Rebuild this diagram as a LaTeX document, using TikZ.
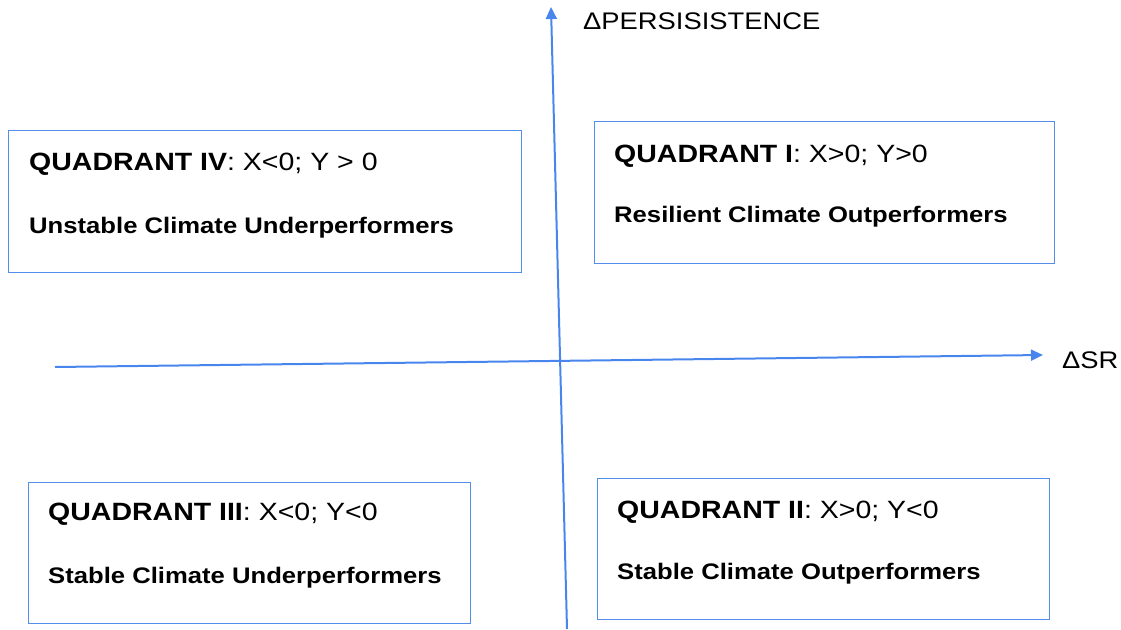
\documentclass[tikz,border=0pt]{standalone}
\usepackage{fontspec}
\setmainfont[FakeStretch=1.14]{Liberation Sans}
\usetikzlibrary{arrows.meta}
\definecolor{axisblue}{RGB}{72,134,238}
\definecolor{boxblue}{RGB}{84,142,236}
\begin{document}
\begin{tikzpicture}[x=1pt,y=-1pt,
  axis/.style={draw=axisblue,line width=2pt,-{Triangle[length=12pt,width=11pt]}},
  quadbox/.style={draw=boxblue,line width=1.2pt,anchor=north west,inner sep=0pt},
  headline/.style={anchor=base west,inner sep=0pt,font=\fontsize{25}{30}\selectfont},
  tagline/.style={anchor=base west,inner sep=0pt,font=\fontsize{22.5}{27}\selectfont\bfseries},
  axislabel/.style={anchor=base west,inner sep=0pt,font=\fontsize{24}{29}\selectfont}]
\useasboundingbox (0,0) rectangle (1121,629);

% quadrant frames
\node[quadbox,minimum width=513pt,minimum height=142pt] (q4) at (8,130) {};
\node[quadbox,minimum width=460pt,minimum height=142pt] (q1) at (594,121) {};
\node[quadbox,minimum width=442pt,minimum height=141pt] (q3) at (28,482) {};
\node[quadbox,minimum width=452pt,minimum height=141pt] (q2) at (597,478) {};

% quadrant captions
\node[headline] (t4) at (29,170) {\textbf{QUADRANT IV}: X<0; Y > 0};
\node[tagline]  (s4) at (29,233) {Unstable Climate Underperformers};
\node[headline] (t1) at (614,162) {\textbf{QUADRANT I}: X>0; Y>0};
\node[tagline]  (s1) at (614,222) {Resilient Climate Outperformers};
\node[headline] (t3) at (48,520) {\textbf{QUADRANT III}: X<0; Y<0};
\node[tagline]  (s3) at (48,583) {Stable Climate Underperformers};
\node[headline] (t2) at (617,518) {\textbf{QUADRANT II}: X>0; Y<0};
\node[tagline]  (s2) at (617,579) {Stable Climate Outperformers};

% axes
\coordinate (xstart) at (55,367);
\coordinate (xend) at (1043,355);
\coordinate (ystart) at (567,629);
\coordinate (yend) at (551,7);
\draw[axis] (xstart) -- (xend);
\draw[axis] (ystart) -- (yend);

\node[axislabel] (xlab) at (1062,368) {ΔSR};
\node[axislabel] (ylab) at (583,29) {ΔPERSISISTENCE};
\end{tikzpicture}
\end{document}
